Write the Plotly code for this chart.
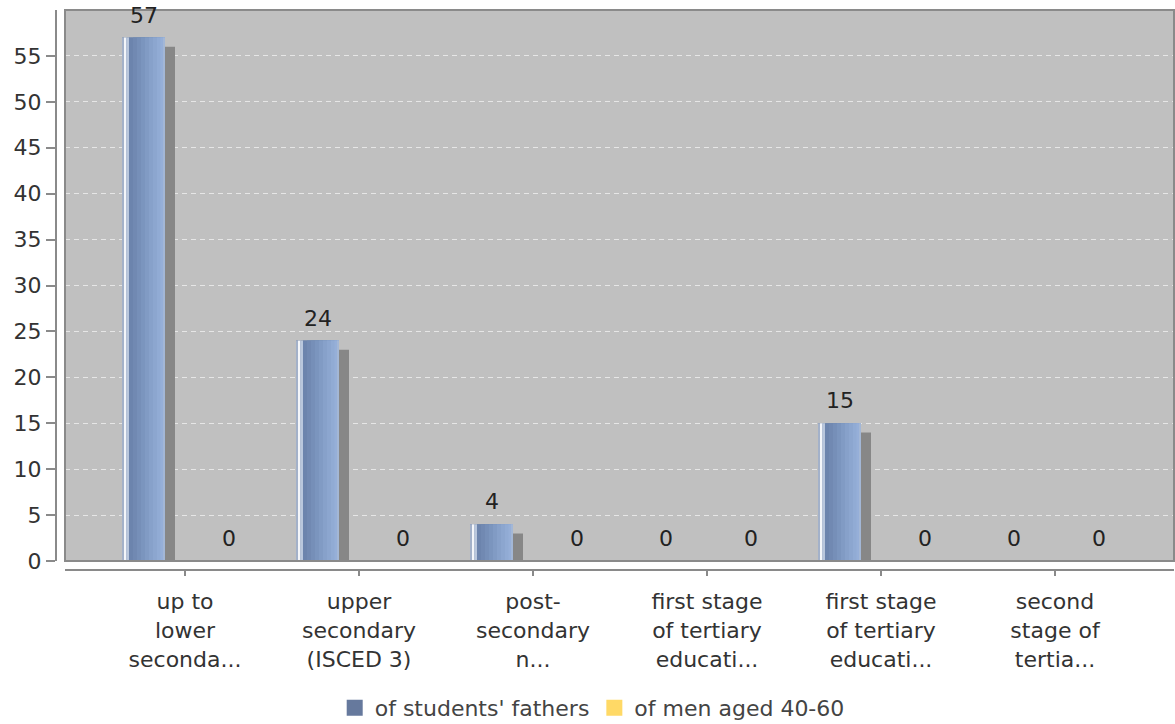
import plotly.graph_objects as go

# ---- data ----
categories = [
    "up to<br>lower<br>seconda...",
    "upper<br>secondary<br>(ISCED 3)",
    "post-<br>secondary<br>n...",
    "first stage<br>of tertiary<br>educati...",
    "first stage<br>of tertiary<br>educati...",
    "second<br>stage of<br>tertia...",
]
fathers = [57, 24, 4, 0, 15, 0]
men = [0, 0, 0, 0, 0, 0]
series_names = ["of students' fathers", "of men aged 40-60"]
series_colors = ["#66799d", "#ffd966"]
y_ticks = [0, 5, 10, 15, 20, 25, 30, 35, 40, 45, 50, 55]

# ---- geometry (pixel -> axis units) ----
UNIT = 174.0  # px per category
def u(px):
    return px / UNIT

x_pos = list(range(len(categories)))
BAR_LEFT = -63  # px from category centre
BAR_W = 43
FONT = "DejaVu Sans"
FS = 22

fig = go.Figure()

# shadow
shadow_vals = [max(v - 1, 0) for v in fathers]
fig.add_trace(go.Bar(x=x_pos, y=shadow_vals, offset=u(BAR_LEFT + 10), width=u(BAR_W),
                     marker=dict(color="#878787", line=dict(width=0)),
                     showlegend=False, hoverinfo="skip"))

# main bar base
fig.add_trace(go.Bar(x=x_pos, y=fathers, offset=u(BAR_LEFT), width=u(BAR_W),
                     name=series_names[0], showlegend=False,
                     marker=dict(color="#6a80a6", line=dict(width=0))))

# gradient strips (start px within bar, end px, colour)
strips = [
    (0, 2, "#a3b1c9"),
    (2, 4.5, "#f4f6fa"),
    (4.5, 7, "#b9c7dd"),
    (7, 43, "#6c84ad"),
    (11, 43, "#7189b2"),
    (15, 43, "#768fb8"),
    (19, 43, "#7b95be"),
    (23, 43, "#819bc4"),
    (27, 43, "#87a1ca"),
    (31, 43, "#8ca6cf"),
    (35, 43, "#91abd4"),
    (38.5, 43, "#96afd8"),
    (41, 43, "#a3b7d6"),
]
for s0, s1, col in strips:
    fig.add_trace(go.Bar(x=x_pos, y=fathers, offset=u(BAR_LEFT + s0), width=u(s1 - s0),
                         marker=dict(color=col, line=dict(width=0)),
                         showlegend=False, hoverinfo="skip"))

# second series
fig.add_trace(go.Bar(x=x_pos, y=men, offset=u(22), width=u(BAR_W),
                     name=series_names[1], showlegend=False,
                     marker=dict(color=series_colors[1], line=dict(width=0))))

# legend entries (square swatches)
for name, col in zip(series_names, series_colors):
    fig.add_trace(go.Scatter(x=[None], y=[None], mode="markers", name=name,
                             marker=dict(symbol="square", size=17, color=col, line=dict(width=0))))

# value labels
for i, v in enumerate(fathers):
    fig.add_annotation(x=i + u(BAR_LEFT + BAR_W / 2), y=v, text=str(v), showarrow=False,
                       yanchor="bottom", yshift=8, font=dict(family=FONT, size=FS, color="#222222"))
for i, v in enumerate(men):
    fig.add_annotation(x=i + u(43.5), y=v, text=str(v), showarrow=False,
                       yanchor="bottom", yshift=8, font=dict(family=FONT, size=FS, color="#222222"))

# plot-area border
fig.add_shape(type="rect", xref="x domain", yref="y domain", x0=0, x1=1, y0=0, y1=1,
              line=dict(color="#8a8a8a", width=2), layer="above")

W, H = 1175, 724
ml, mr, mt, mb = 56, 1, 10, 154
pw, ph = W - ml - mr, H - mt - mb

fig.update_layout(
    width=W, height=H,
    margin=dict(l=ml, r=mr, t=mt, b=mb, pad=0, autoexpand=False),
    paper_bgcolor="white",
    plot_bgcolor="#c0c0c0",
    barmode="overlay",
    font=dict(family=FONT, size=FS, color="#333333"),
    legend=dict(orientation="h", xref="container", yref="container",
                x=0.504, y=0.022, xanchor="center", yanchor="middle",
                itemsizing="trace", itemwidth=30,
                font=dict(family=FONT, size=FS, color="#444444"),
                bgcolor="rgba(0,0,0,0)"),
    xaxis=dict(
        domain=[(65 - ml) / pw, 1], anchor="free", position=0, automargin=False,
        range=[-120 / UNIT, 5 + 119 / UNIT],
        tickmode="array", tickvals=x_pos, ticktext=categories,
        ticks="outside", ticklen=5, tickwidth=1.5, tickcolor="#8a8a8a",
        ticklabelstandoff=7,
        showline=True, linecolor="#8a8a8a", linewidth=2,
        showgrid=False, zeroline=False,
        tickfont=dict(family=FONT, size=FS, color="#333333"),
    ),
    yaxis=dict(
        domain=[(570 - 561) / ph, 1], anchor="free", position=0, automargin=False,
        range=[0, 60],
        tickmode="array", tickvals=y_ticks,
        ticks="outside", ticklen=9, tickwidth=1.5, tickcolor="#8a8a8a",
        showline=True, linecolor="#8a8a8a", linewidth=2,
        showgrid=True, gridcolor="#e6e6e6", griddash="5px,4px", gridwidth=1,
        zeroline=False,
        tickfont=dict(family=FONT, size=FS, color="#333333"),
    ),
)

fig.write_html("out.html", config={"displayModeBar": False},
               post_script="document.body.style.margin='0';document.body.style.overflow='hidden';")
